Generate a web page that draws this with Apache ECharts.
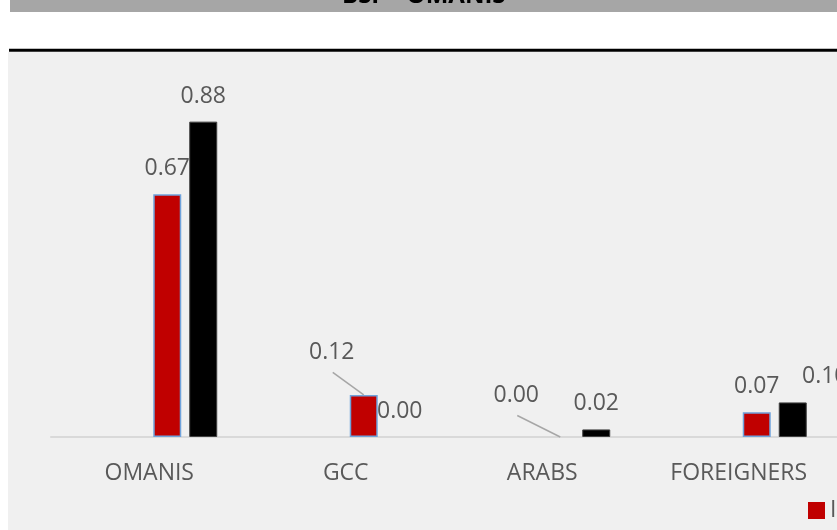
<!DOCTYPE html>
<html>
<head>
<meta charset="utf-8">
<script src="https://cdn.jsdelivr.net/npm/echarts@6/dist/echarts.min.js"></script>
<style>
html,body{margin:0;padding:0;background:#fff;}
#chart{width:837px;height:530px;}
</style>
</head>
<body>
<div id="chart"></div>
<script>
var categories = ['OMANIS', 'GCC', 'ARABS', 'FOREIGNERS'];
var seriesNames = ['INVESTORS 2019', 'INVESTORS 2020'];
var redValues = [0.674, 0.117, 0.0, 0.069];
var blackValues = [0.876, 0.0, 0.021, 0.096];
var titleText = 'BSP - OMANIS';

var chart = echarts.init(document.getElementById('chart'));
var FONT = '"Open Sans", sans-serif';
function makeLabel() {
  return {
    show: true, position: 'top', distance: 14,
    fontFamily: FONT, fontSize: 23, lineHeight: 23, color: '#595959',
    formatter: function (p) { return Number(p.value).toFixed(2); }
  };
}
var redMoved = { 1: { dx: -32, dy: -17 }, 2: { dx: -44, dy: -16 } };
var blackMoved = { 3: { dx: 32, dy: 0 } };

function toItems(values) {
  return values.map(function (v) {
    var item = { value: v };
    if (v === 0) item.itemStyle = { borderWidth: 0 };
    return item;
  });
}

var baseGraphics = [
  { type: 'rect', shape: { x: 8, y: 52, width: 829, height: 478 }, style: { fill: '#f0f0f0' }, z: -10 },
  { type: 'rect', shape: { x: 10, y: 0, width: 827, height: 12 }, style: { fill: '#a6a6a6' }, z: -10 },
  { type: 'rect', shape: { x: 9, y: 48.8, width: 828, height: 3 }, style: { fill: '#000000' }, z: -10 },
  { type: 'text', x: 342, y: -4, z: 1, style: { text: titleText, fontFamily: FONT, fontWeight: 'bold', fontSize: 24, verticalAlign: 'middle', fill: '#000' } }
];

chart.setOption({
  animation: false,
  backgroundColor: '#ffffff',
  graphic: baseGraphics,
  legend: {
    left: 808, top: 499, width: 600, padding: 0,
    data: [seriesNames[0], seriesNames[1]],
    icon: 'rect', itemWidth: 17, itemHeight: 17, itemGap: 20,
    itemStyle: { borderWidth: 0 },
    textStyle: { fontFamily: FONT, fontSize: 23, color: '#595959' }
  },
  grid: { left: 51, top: 77, width: 789, height: 360, containLabel: false },
  xAxis: {
    type: 'category', data: categories,
    axisLine: { show: true, lineStyle: { color: '#d9d9d9', width: 2 } },
    axisTick: { show: false },
    axisLabel: { fontFamily: FONT, fontSize: 23, lineHeight: 23, color: '#595959', margin: 25 }
  },
  yAxis: { type: 'value', min: 0, max: 1, show: false, splitLine: { show: false } },
  series: [
    { name: 'pad1', type: 'bar', data: [null, null, null, null], barWidth: 28, barGap: '28.57%' },
    { name: 'pad2', type: 'bar', data: [null, null, null, null], barWidth: 28, barGap: '28.57%' },
    {
      name: seriesNames[0], type: 'bar', data: toItems(redValues), barWidth: 28, barGap: '28.57%',
      itemStyle: { color: '#c00000', borderColor: '#6fa3dc', borderWidth: 1.5 },
      label: makeLabel(),
      labelLayout: function (p) { return redMoved[p.dataIndex] || {}; }
    },
    {
      name: seriesNames[1], type: 'bar', data: toItems(blackValues), barWidth: 28, barGap: '28.57%',
      itemStyle: { color: '#000000', borderColor: '#404040', borderWidth: 1 },
      label: makeLabel(),
      labelLayout: function (p) { return blackMoved[p.dataIndex] || {}; }
    }
  ]
});

// Leader lines for the moved labels, positioned through the chart's own bar layout
var lines = [];
Object.keys(redMoved).forEach(function (k) {
  var i = +k;
  var layout = chart.getModel().getSeriesByIndex(2).getData().getItemLayout(i);
  var barTopX = layout.x + layout.width / 2;
  var barTopY = layout.y + layout.height;
  var labelCx = barTopX + redMoved[i].dx;
  var labelCy = barTopY - 14 - 11.5 + redMoved[i].dy;
  lines.push({
    type: 'line', z: 5,
    shape: { x1: labelCx + 1, y1: labelCy + 20, x2: barTopX, y2: barTopY },
    style: { stroke: '#a6a6a6', lineWidth: 1.5 }
  });
});
chart.setOption({ graphic: baseGraphics.concat(lines) }, { replaceMerge: ['graphic'] });
</script>
</body>
</html>
